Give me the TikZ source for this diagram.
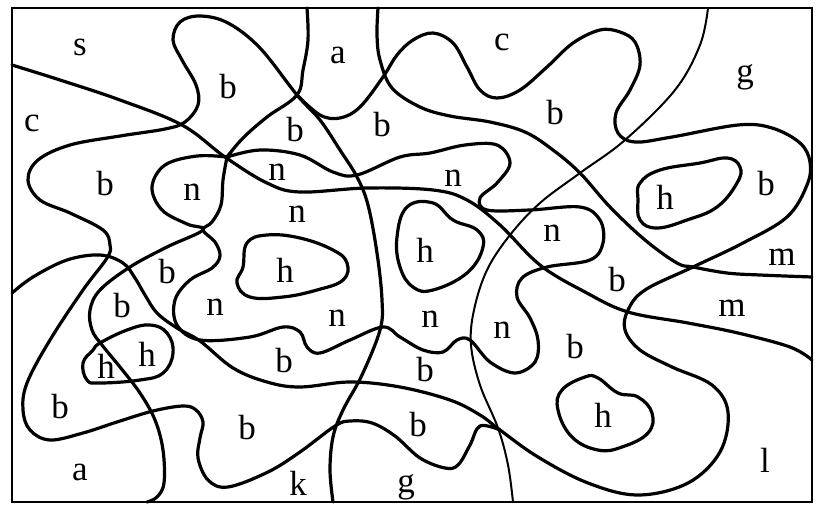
\documentclass[tikz,border=0pt]{standalone}
\usepackage{fontspec}
\setmainfont{Liberation Serif}
\tikzstyle{border}=[line width=2.6pt]
\tikzstyle{line}=[line width=3.2pt, line cap=round, line join=round]
\tikzstyle{thinline}=[line width=2pt, line cap=round]
\tikzstyle{hole}=[line width=3.2pt]
\tikzstyle{lab}=[font=\fontsize{35}{37}\selectfont, inner sep=0pt]

\begin{document}
\begin{tikzpicture}[x=1pt, y=-1pt]
\useasboundingbox (0,0) rectangle (825,507);
\draw[border] (12,8) rectangle (812,502);

% long boundaries
\draw[line] plot[smooth, tension=0.6] coordinates {(12,65) (60,80) (120,100) (182,125) (225,157) (267,183) (300,192) (367,188) (433,190) (467,200) (500,225) (540,265) (585,292) (628,312) (688,323) (738,333) (790,347) (812,360)};
\draw[line] plot[smooth, tension=0.6] coordinates {(500,430) (480,426) (470,445) (458,465) (445,468) (420,458) (395,436) (372,423) (350,421) (335,426) (300,452) (268,472) (228,487) (208,480) (198,458) (200,438) (203,422) (196,410) (183,406) (153,411) (117,422) (83,433) (50,440) (30,430) (23,410) (27,383) (50,340) (83,290) (107,258) (110,245) (103,230) (70,213) (40,200) (28,180) (38,160) (70,145) (120,136) (165,129) (185,122) (198,105) (196,85) (182,60) (173,40) (180,22) (200,16) (228,23) (260,48) (297,95) (320,120) (340,150) (357,177) (368,205) (377,253) (382,300) (380,330) (362,375) (343,410) (333,437) (330,470) (333,502)};
\draw[line] plot[smooth, tension=0.6] coordinates {(12,293) (33,277) (67,260) (100,255) (123,263) (135,278) (145,295) (157,313) (177,328) (200,341) (233,368) (267,382) (300,387) (350,382) (400,387) (450,400) (480,415) (500,430) (538,457) (588,483) (638,495) (688,483) (720,452) (728,412) (712,385) (672,367) (640,350) (625,330) (628,310) (645,290) (693,267) (743,243) (787,217) (807,185) (810,162) (800,143) (772,128) (738,125) (672,137) (635,142) (618,133) (616,113) (630,90) (640,65) (635,42) (620,32) (600,30) (573,43) (547,67) (520,90) (497,98) (480,90) (467,67) (453,43) (433,33) (413,40) (397,55) (383,77) (360,107) (340,118) (320,115) (297,95)};
\draw[line] plot[smooth, tension=0.6] coordinates {(307,8) (308,40) (303,70) (297,95) (267,117) (243,138) (227,157)};
\draw[line] plot[smooth, tension=0.6] coordinates {(227,157) (223,180) (221,205) (212,222) (203,230) (215,242) (220,256) (212,268) (190,280) (175,300) (177,325) (200,340) (250,337) (283,327) (300,332) (307,347) (320,353) (350,340) (383,327) (400,337) (423,350) (443,352) (457,340) (470,340) (490,362) (515,373) (535,362) (538,340) (530,318) (517,297) (522,278) (547,267) (590,260) (603,243) (600,220) (580,207) (530,210) (487,210) (480,198) (497,183) (510,163) (497,145) (465,145) (430,153) (400,157) (357,175) (333,172) (300,155) (260,150) (227,157)};
\draw[line] plot[smooth, tension=0.6] coordinates {(227,157) (197,156) (165,165) (152,187) (162,210) (187,224) (203,230) (167,247) (130,267) (100,290) (90,310) (92,330) (102,345) (120,367) (140,393) (155,420) (163,450) (164,483) (157,497) (147,502)};
\draw[line] plot[smooth, tension=0.6] coordinates {(378,8) (377,35) (380,60) (392,88) (420,107) (450,116) (490,122) (525,132) (553,150) (580,173) (610,207) (645,240) (677,263) (693,267) (727,273) (760,275) (812,277)};
\draw[thinline] plot[smooth, tension=0.6] coordinates {(708,8) (700,45) (675,90) (625,140) (580,173) (540,203) (510,235) (487,270) (474,310) (471,345) (480,385) (498,428) (508,465) (513,502)};

% h islands
\draw[hole] plot[smooth cycle, tension=0.7] coordinates {(247,243) (267,235) (300,238) (333,250) (347,263) (343,280) (317,290) (283,297) (250,297) (237,283) (243,267)};
\draw[hole] plot[smooth cycle, tension=0.7] coordinates {(407,207) (433,203) (453,220) (477,230) (483,247) (467,273) (433,290) (413,287) (400,267) (397,237)};
\draw[hole] plot[smooth cycle, tension=0.7] coordinates {(640,183) (660,170) (700,163) (727,158) (740,167) (737,183) (717,207) (687,220) (657,228) (640,220) (638,200)};
\draw[hole] plot[smooth cycle, tension=0.7] coordinates {(562,390) (585,377) (598,378) (618,393) (638,397) (652,413) (648,433) (622,447) (598,450) (572,437) (558,410)};
\draw[hole] plot[smooth cycle, tension=0.7] coordinates {(100,343) (127,330) (150,325) (167,333) (173,353) (163,373) (140,380) (100,383) (87,380) (83,363) (93,350)};

\foreach \t/\x/\y [count=\i] in {s/80/47, a/338/55, c/502/42, g/745/77, b/228/87, c/32/123, b/295/130, b/382/125, b/555/113,
  n/277/172, n/453/178, h/665/197, b/766/184, b/105/184, n/192/192, n/297/214, h/285/270, h/425/250, n/552/233,
  m/782/257, b/167/272, b/617/280, m/732/308, b/122/306, n/215/307, n/337/318, n/430/319, n/502/330, b/575/347,
  h/106/366, h/147/354, b/284/361, b/425/370, b/60/407, h/603/415, b/247/428, b/418/425, l/765/460, a/80/472,
  k/298/483, g/406/487}
  \node[lab] (lab\i) at (\x,\y) {\t};
\end{tikzpicture}
\end{document}
